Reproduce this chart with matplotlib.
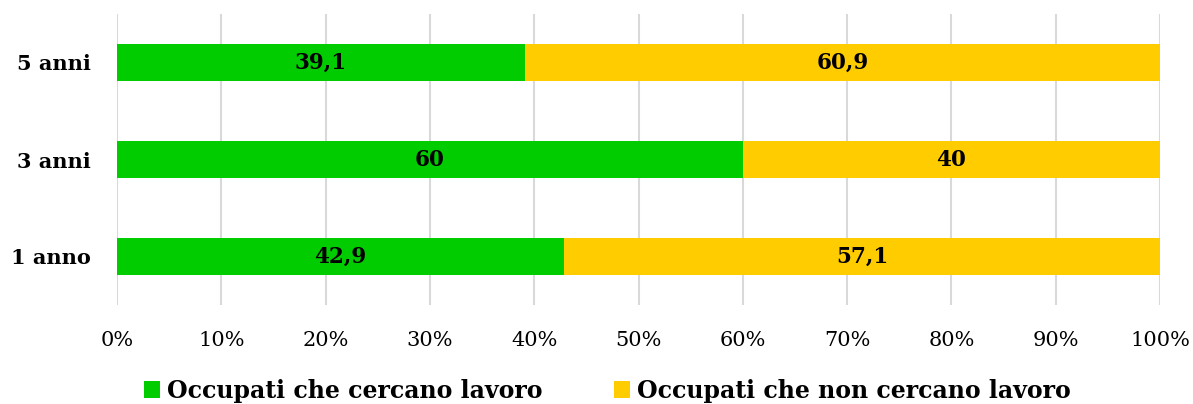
import matplotlib
matplotlib.use("Agg")
import matplotlib.pyplot as plt
from matplotlib.patches import Patch
import numpy as np

categories = ["1 anno", "3 anni", "5 anni"]
cercano = [42.9, 60, 39.1]
non_cercano = [57.1, 40, 60.9]
labels_cercano = ["42,9", "60", "39,1"]
labels_non = ["57,1", "40", "60,9"]
series_names = ["Occupati che cercano lavoro", "Occupati che non cercano lavoro"]
colors = ["#00CC00", "#FFCC00"]

plt.rcParams['font.family'] = ['DejaVu Serif']

fig = plt.figure(figsize=(11.93, 4.04), dpi=100)
ax = fig.add_axes([117/1193, 1 - 305/404, (1160-117)/1193, (305-14)/404])

y = np.arange(len(categories))
h = 0.39
ax.barh(y, cercano, height=h, color=colors[0], zorder=3)
ax.barh(y, non_cercano, left=cercano, height=h, color=colors[1], zorder=3)

for i in range(len(categories)):
    ax.text(cercano[i] / 2, y[i], labels_cercano[i], ha="center", va="center",
            fontsize=15.5, fontweight="bold", color="black", zorder=4)
    ax.text(cercano[i] + non_cercano[i] / 2, y[i], labels_non[i], ha="center", va="center",
            fontsize=15.5, fontweight="bold", color="black", zorder=4)

ax.set_xlim(0, 100)
ax.set_ylim(-0.5, 2.5)
ax.set_xticks(np.arange(0, 101, 10))
ax.set_xticklabels([f"{v}%" for v in range(0, 101, 10)], fontsize=15)
ax.set_yticks(y)
ax.set_yticklabels(categories, fontsize=15, fontweight="bold")
ax.tick_params(axis="both", length=0)
ax.tick_params(axis="x", pad=19)
ax.tick_params(axis="y", pad=19)
ax.grid(axis="x", color="#D9D9D9", linewidth=1.5, zorder=0)
for s in ax.spines.values():
    s.set_visible(False)

handles = [Patch(facecolor=colors[0]), Patch(facecolor=colors[1])]
fig.legend(handles, series_names, loc="center", bbox_to_anchor=(0.509, 1 - 391/404),
           ncol=2, frameon=False, prop={"family": "DejaVu Serif", "size": 17, "weight": "bold"},
           handlelength=0.7, handleheight=0.7, handletextpad=0.3, columnspacing=3.0,
           borderaxespad=0, borderpad=0)

fig.savefig("out.png", dpi=100)
